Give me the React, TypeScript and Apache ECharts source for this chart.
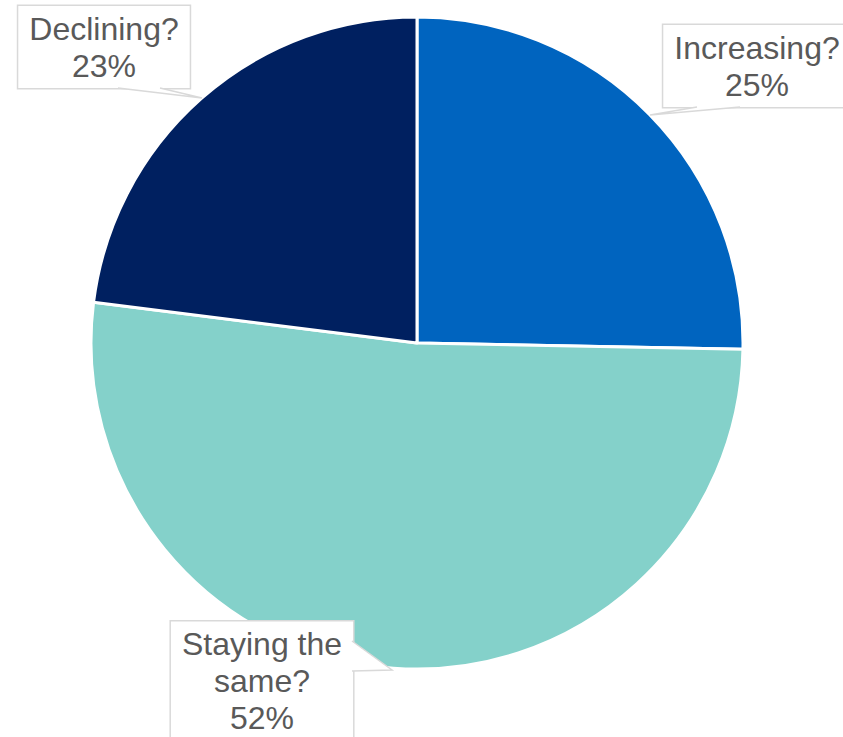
import React, { useEffect, useRef } from "react";
import * as echarts from "echarts";

const categories = ["Increasing?", "Staying the same?", "Declining?"];
const labelLines = ["Increasing?", "Staying the\nsame?", "Declining?"];
const values = [25.3, 51.7, 23.0];
const colors = ["#0064BF", "#84D1CA", "#002060"];

// label box centres and callout wedge points (layout only)
const labelCentres = [
  [757, 66],
  [262, 681],
  [104, 47],
];
const wedges = [
  { line: [[697, 107], [650, 115], [740, 107]], fill: [[697, 104], [697, 107], [650, 115], [740, 107], [740, 104]] },
  { line: [[352, 641], [392, 670], [352, 671]], fill: [[348, 639], [352, 641], [392, 670], [352, 671], [348, 671]] },
  { line: [[118, 88], [202, 98], [160, 88]], fill: [[118, 85], [118, 88], [202, 98], [160, 88], [160, 85]] },
];

export default function App() {
  const ref = useRef<HTMLDivElement>(null);
  useEffect(() => {
    document.body.style.margin = "0";
    const chart = echarts.init(ref.current!, null, { renderer: "svg" });
    const graphics: any[] = [];
    wedges.forEach((w) => {
      graphics.push({
        type: "polygon",
        z: 100,
        shape: { points: w.fill },
        style: { fill: "#ffffff", stroke: null },
      });
      graphics.push({
        type: "polyline",
        z: 101,
        shape: { points: w.line },
        style: { stroke: "#D9D9D9", lineWidth: 1.5, fill: null },
      });
    });
    chart.setOption({
      animation: false,
      backgroundColor: "#ffffff",
      graphic: graphics,
      series: [
        {
          type: "pie",
          center: [417, 343],
          radius: 326,
          startAngle: 90,
          clockwise: true,
          percentPrecision: 0,
          avoidLabelOverlap: false,
          itemStyle: { borderColor: "#ffffff", borderWidth: 3 },
          data: categories.map((c, i) => ({
            name: c,
            value: values[i],
            itemStyle: { color: colors[i] },
          })),
          label: {
            show: true,
            position: "outside",
            formatter: (p: any) => `${labelLines[p.dataIndex]}\n${p.percent}%`,
            fontFamily: "Liberation Sans, Arial, sans-serif",
            fontSize: 32,
            lineHeight: 37,
            color: "#595959",
            align: "center",
            backgroundColor: "#ffffff",
            borderColor: "#D9D9D9",
            borderWidth: 1.5,
            padding: [4, 11],
          },
          labelLine: { show: false },
          labelLayout: (params: any) => {
            const i = params.dataIndex;
            return {
              x: labelCentres[i][0],
              y: labelCentres[i][1],
              align: "center",
              verticalAlign: "middle",
            };
          },
        },
      ],
    });
    return () => chart.dispose();
  }, []);
  return (
    <div
      ref={ref}
      style={{ position: "absolute", left: 0, top: 0, width: 843, height: 737 }}
    />
  );
}
